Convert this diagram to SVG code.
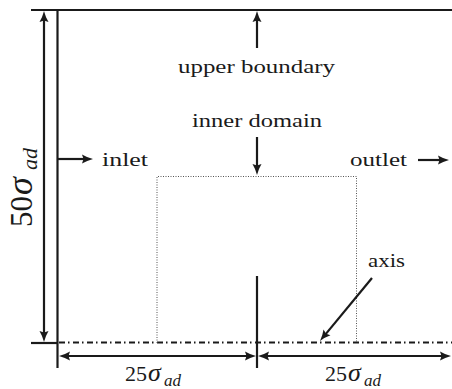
<svg xmlns="http://www.w3.org/2000/svg" width="452" height="389" viewBox="0 0 452 389">
<defs>
<marker id="ah" markerUnits="userSpaceOnUse" markerWidth="16" markerHeight="12" viewBox="-7 -6 13 12" refX="0" refY="0" orient="auto-start-reverse">
<path d="M-6,-4.5 Q-1,-1.5 5,0 Q-1,1.5 -6,4.5 L-4.5,0 Z" fill="#1a1a1a"/>
</marker>
<style>
.ln{stroke:#1a1a1a;stroke-width:2.2;fill:none}
.ax{stroke:#1a1a1a;stroke-width:1.8;fill:none;stroke-dasharray:6 3 1.5 3.5}
.dot{stroke:#555;stroke-width:1;fill:none;stroke-dasharray:1 1.5}
.ar{stroke:#1a1a1a;stroke-width:2.2;fill:none;marker-end:url(#ah)}
.dbl{stroke:#1a1a1a;stroke-width:2.2;fill:none;marker-start:url(#ah);marker-end:url(#ah)}
.t{font-family:'Liberation Serif','DejaVu Serif','Times New Roman',serif;fill:#1a1a1a}
.it{font-style:italic}
</style>
</defs>
<rect width="452" height="389" fill="#fff"/>
<g id="domain">
<line class="ln" x1="31" y1="10" x2="452" y2="10"/>
<line class="ln" x1="57.5" y1="10" x2="57.5" y2="368"/>
<line class="ln" x1="31" y1="343" x2="57.5" y2="343"/>
<line class="ln" x1="257" y1="276" x2="257" y2="368"/>
<line class="ax" x1="59" y1="342.5" x2="452" y2="342.5"/>
<polyline class="dot" points="157,343 157,176.5 356.5,176.5 356.5,343"/>
</g>
<g id="connectors">
<line class="dbl" x1="44" y1="16" x2="44" y2="337"/>
<line class="dbl" x1="64" y1="356" x2="251" y2="356"/>
<line class="dbl" x1="263" y1="356" x2="446" y2="356"/>
<line class="ar" x1="257" y1="48" x2="257" y2="16"/>
<line class="ar" x1="257" y1="137" x2="257" y2="170"/>
<line class="ar" x1="58" y1="159" x2="88" y2="159"/>
<line class="ar" x1="418" y1="160" x2="444" y2="160"/>
<line class="ar" x1="372" y1="278" x2="323.2" y2="337.1"/>
</g>
<g id="label-upper"><text class="t" x="178" y="73" font-size="18" textLength="157" lengthAdjust="spacingAndGlyphs">upper boundary</text></g>
<g id="label-inner"><text class="t" x="192" y="127" font-size="18" textLength="130" lengthAdjust="spacingAndGlyphs">inner domain</text></g>
<g id="label-inlet"><text class="t" x="102" y="166" font-size="18" textLength="46" lengthAdjust="spacingAndGlyphs">inlet</text></g>
<g id="label-outlet"><text class="t" x="350" y="166" font-size="18" textLength="57" lengthAdjust="spacingAndGlyphs">outlet</text></g>
<g id="label-axis"><text class="t" x="368" y="267" font-size="18" textLength="37" lengthAdjust="spacingAndGlyphs">axis</text></g>
<g id="dim-height"><text class="t" transform="translate(32,227) rotate(-90)" font-size="31"><tspan x="0" y="0">50</tspan><tspan class="it" x="32" y="0" font-size="36">σ</tspan><tspan class="it" x="57" y="5" font-size="22">ad</tspan></text></g>
<g id="dim-left"><text class="t" font-size="22"><tspan x="125" y="381">25</tspan><tspan class="it" x="148" y="381" font-size="26">σ</tspan><tspan class="it" x="164" y="386" font-size="17">ad</tspan></text></g>
<g id="dim-right"><text class="t" font-size="22"><tspan x="325" y="381">25</tspan><tspan class="it" x="348" y="381" font-size="26">σ</tspan><tspan class="it" x="364" y="386" font-size="17">ad</tspan></text></g>
</svg>
